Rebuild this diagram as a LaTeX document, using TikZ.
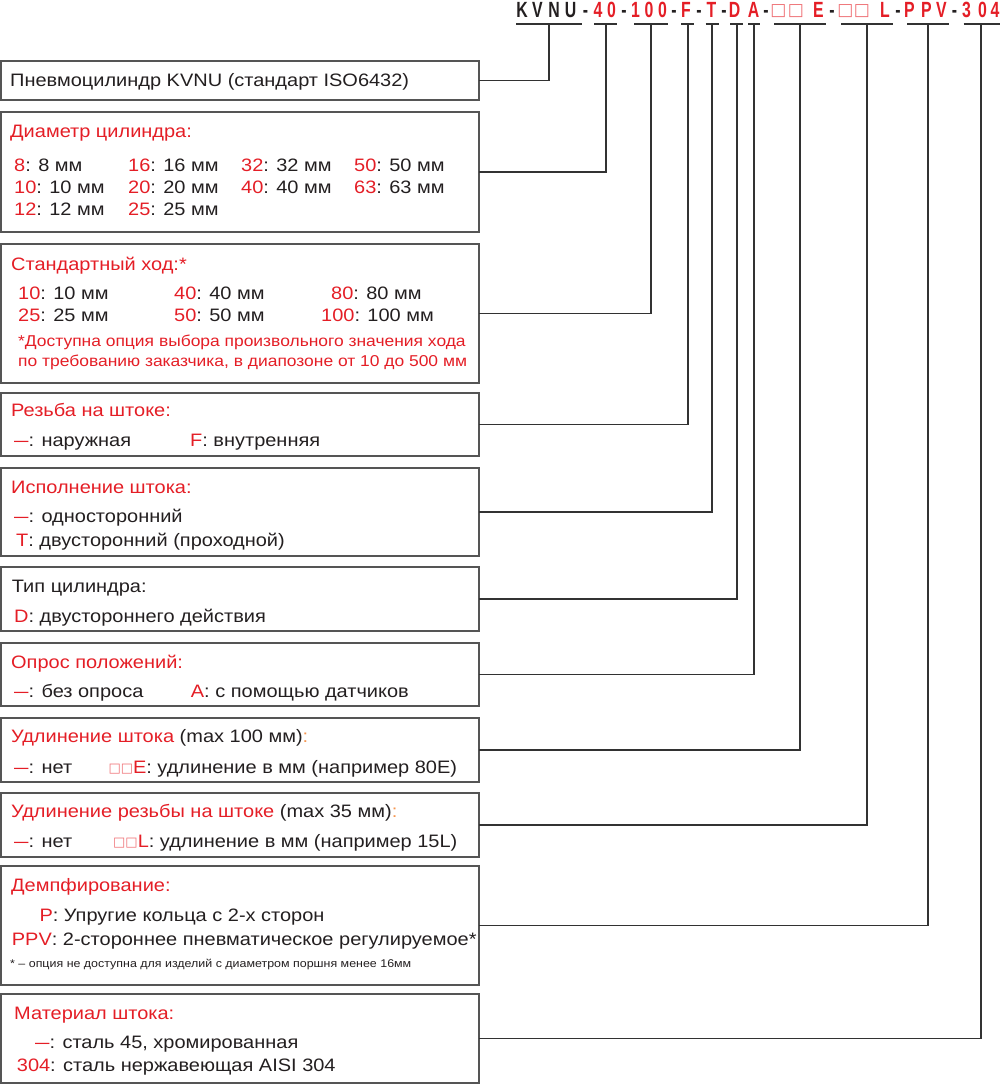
\documentclass[tikz,border=0pt]{standalone}
\usepackage{fontspec}
\usepackage{graphicx}
\setmainfont{Liberation Sans}[FakeStretch=1.11]
\newfontfamily\hdrfont{Liberation Sans}
\newfontfamily\sqfont{DejaVu Sans}
\definecolor{cred}{RGB}{228,30,38}
\definecolor{cpink}{RGB}{238,110,115}
\definecolor{ctext}{RGB}{35,31,32}
\definecolor{cbox}{RGB}{85,85,85}
\definecolor{cline}{RGB}{50,50,50}
\definecolor{corange}{RGB}{245,150,80}
\newcommand\rd[1]{\textcolor{cred}{#1}}
\newcommand\rdash{\textcolor{cred}{\scalebox{0.72}[1]{—}}}
\newcommand\sqs{\raisebox{0.8pt}{\sqfont\fontsize{13}{13}\selectfont\textcolor{cpink}{□}}}
\newcommand\sqh{\raisebox{1.7pt}{\sqfont\fontsize{17}{17}\selectfont\mdseries\scalebox{1.39}[1]{\textcolor{cpink}{□}}}}
\newcommand\mainfs{\fontsize{18}{21}\selectfont}
\newcommand\notefs{\fontsize{15.7}{20}\selectfont}
\newcommand\footfs{\fontsize{11.2}{12}\selectfont}
\newcommand\hdrfs{\hdrfont\fontsize{22}{22}\selectfont\bfseries}
\begin{document}
\begin{tikzpicture}[x=1pt,y=-1pt,
  box/.style={draw=cbox, line width=1.4pt, anchor=north west, minimum width=478pt, inner sep=0pt, outer sep=0pt},
  conn/.style={draw=cline, line width=1.2pt},
  txt/.style={anchor=base west, inner sep=0pt, font=\mainfs, text=ctext},
  note/.style={anchor=base west, inner sep=0pt, font=\notefs, text=cred},
  hdr/.style={anchor=base, inner sep=0pt, font=\hdrfs}]
\useasboundingbox (0,0) rectangle (1000,1085);
% header code
\foreach \xx/\ch/\cc [count=\i] in {522/K/ctext, 537.5/V/ctext, 554/N/ctext, 570.5/U/ctext, 585.5/-/ctext,
  598/4/cred, 611.5/0/cred, 624/-/ctext,
  635.5/1/cred, 649/0/cred, 662.5/0/cred, 674/-/ctext,
  686/F/cred, 699/-/ctext, 711.5/T/cred, 724/-/ctext,
  734.5/D/cred, 753.5/A/cred, 766/-/ctext,
  778.5/\sqh/cred, 796/\sqh/cred, 818.5/E/cred, 832/-/ctext,
  845.5/\sqh/cred, 862/\sqh/cred, 885/L/cred, 898/-/ctext,
  909.5/P/cred, 926.5/P/cred, 941.5/V/cred, 954.5/-/ctext,
  966.5/3/cred, 982.5/0/cred, 995/4/cred}
  \node[hdr, text=\cc] (hc\i) at (\xx,17) {\scalebox{0.72}[1]{\ch}};
% underlines
\foreach \a/\b in {516/582, 594/617, 634/668, 681/694, 705.5/718.5, 730/742.5, 748/760, 774/826, 841/893, 907/949, 963.5/1000}
  \draw[conn] (\a,24) -- (\b,24);
% connector tops
\foreach \xx [count=\i] in {549,606,651,688,712,737,754,800,867,928,981}
  \coordinate (u\i) at (\xx,24);
% boxes
\node[box, minimum height=39pt]  (b1)  at (1,61) {};
\node[box, minimum height=120pt] (b2)  at (1,112) {};
\node[box, minimum height=139pt] (b3)  at (1,244) {};
\node[box, minimum height=63pt]  (b4)  at (1,393) {};
\node[box, minimum height=88pt]  (b5)  at (1,468) {};
\node[box, minimum height=64pt]  (b6)  at (1,567) {};
\node[box, minimum height=63pt]  (b7)  at (1,643) {};
\node[box, minimum height=64pt]  (b8)  at (1,718) {};
\node[box, minimum height=64pt]  (b9)  at (1,793) {};
\node[box, minimum height=119pt] (b10) at (1,866) {};
\node[box, minimum height=89pt]  (b11) at (1,994) {};
% connectors
\foreach \i in {1,...,11}
  \draw[conn] (b\i.east) -| (u\i);
% box 1
\node[txt] (t1) at (10,86) {Пневмоцилиндр KVNU (стандарт ISO6432)};
% box 2
\node[txt, text=cred] (t2) at (10,137) {Диаметр цилиндра:};
\node[txt] (t2a) at (14,171.7) {\rd{8}: 8 мм};
\node[txt] (t2b) at (14,193.3) {\rd{10}: 10 мм};
\node[txt] (t2c) at (14,215.7) {\rd{12}: 12 мм};
\node[txt] (t2d) at (128,171.7) {\rd{16}: 16 мм};
\node[txt] (t2e) at (128,193.3) {\rd{20}: 20 мм};
\node[txt] (t2f) at (128,215.7) {\rd{25}: 25 мм};
\node[txt] (t2g) at (241,171.7) {\rd{32}: 32 мм};
\node[txt] (t2h) at (241,193.3) {\rd{40}: 40 мм};
\node[txt] (t2i) at (354,171.7) {\rd{50}: 50 мм};
\node[txt] (t2j) at (354,193.3) {\rd{63}: 63 мм};
% box 3
\node[txt, text=cred] (t3) at (11,270) {Стандартный ход:*};
\node[txt] (t3a) at (18,299.3) {\rd{10}: 10 мм};
\node[txt] (t3b) at (18,321.7) {\rd{25}: 25 мм};
\node[txt] (t3c) at (174,299.3) {\rd{40}: 40 мм};
\node[txt] (t3d) at (174,321.7) {\rd{50}: 50 мм};
\node[txt] (t3e) at (331,299.3) {\rd{80}: 80 мм};
\node[txt] (t3f) at (321,321.7) {\rd{100}: 100 мм};
\node[note] (t3g) at (18,346) {*Доступна опция выбора произвольного значения хода};
\node[note] (t3h) at (18,366.7) {по требованию заказчика, в диапозоне от 10 до 500 мм};
% box 4
\node[txt, text=cred] (t4) at (11,416.7) {Резьба на штоке:};
\node[txt] (t4a) at (14,446.7) {\rdash: наружная};
\node[txt] (t4b) at (190,446.7) {\rd{F}: внутренняя};
% box 5
\node[txt, text=cred] (t5) at (11,493.3) {Исполнение штока:};
\node[txt] (t5a) at (14,522.7) {\rdash: односторонний};
\node[txt] (t5b) at (16,546.7) {\rd{T}: двусторонний (проходной)};
% box 6
\node[txt] (t6) at (11.7,592.3) {Тип цилиндра:};
\node[txt] (t6a) at (14,622.3) {\rd{D}: двустороннего действия};
% box 7
\node[txt, text=cred] (t7) at (11,668.3) {Опрос положений:};
\node[txt] (t7a) at (14,697.3) {\rdash: без опроса};
\node[txt] (t7b) at (190.7,697.3) {\rd{A}: с помощью датчиков};
% box 8
\node[txt] (t8) at (11,742.3) {\rd{Удлинение штока} (max 100 мм)\textcolor{corange}{:}};
\node[txt] (t8a) at (14,773.3) {\rdash: нет};
\node[txt] (t8b) at (108.3,773.3) {\sqs\sqs\rd{E}: удлинение в мм (например 80E)};
% box 9
\node[txt] (t9) at (11,817.7) {\rd{Удлинение резьбы на штоке} (max 35 мм)\textcolor{corange}{:}};
\node[txt] (t9a) at (14,847.7) {\rdash: нет};
\node[txt] (t9b) at (113,847.7) {\sqs\sqs\rd{L}: удлинение в мм (например 15L)};
% box 10
\node[txt, text=cred] (t10) at (11,891.7) {Демпфирование:};
\node[txt] (t10a) at (39.3,921.7) {\rd{P}: Упругие кольца с 2-х сторон};
\node[txt] (t10b) at (11.7,945) {\rd{PPV}: 2-стороннее пневматическое регулируемое*};
\node[txt, font=\footfs] (t10c) at (10,967.3) {* – опция не доступна для изделий с диаметром поршня менее 16мм};
% box 11
\node[txt, text=cred] (t11) at (14,1019.3) {Материал штока:};
\node[txt] (t11a) at (35,1048.3) {\rdash: сталь 45, хромированная};
\node[txt] (t11b) at (16.7,1071.7) {\rd{304}: сталь нержавеющая AISI 304};
\end{tikzpicture}
\end{document}
